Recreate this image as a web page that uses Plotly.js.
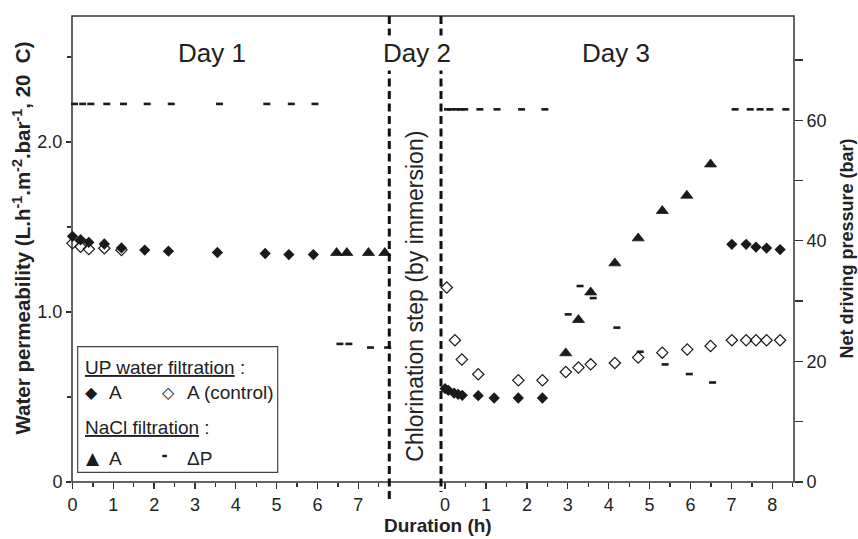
<!DOCTYPE html>
<html><head><meta charset="utf-8">
<script src="https://cdn.plot.ly/plotly-3.0.1.min.js"></script>
<style>html,body{margin:0;padding:0;background:#fff}#chart{width:858px;height:539px}</style>
</head><body><div id="chart"></div>
<script>
// ---------- Day 1 ----------
const day1UpTime   = [0, 0.2, 0.4, 0.78, 1.2, 1.77, 2.35, 3.55, 4.72, 5.3, 5.9];
const day1UpA      = [1.445, 1.425, 1.41, 1.40, 1.377, 1.364, 1.358, 1.35, 1.344, 1.338, 1.338];
const day1CtrlTime = [0, 0.2, 0.4, 0.78, 1.2];
const day1CtrlA    = [1.404, 1.384, 1.37, 1.375, 1.365];
const day1NaclTime = [6.47, 6.72, 7.25, 7.65];
const day1NaclA    = [1.348, 1.348, 1.348, 1.348];
const day1DpHighTime = [0.05, 0.25, 0.45, 0.84, 1.25, 1.83, 2.42, 3.6, 4.76, 5.36, 5.94];
const day1DpHigh     = [62.7, 62.7, 62.7, 62.7, 62.7, 62.7, 62.7, 62.7, 62.7, 62.7, 62.7];
const day1DpLowTime  = [6.55, 6.77, 7.3, 7.72];
const day1DpLow      = [22.9, 22.9, 22.3, 22.3];
// ---------- Day 3 ----------
const day3UpTime   = [0, 0.08, 0.22, 0.32, 0.42, 0.81, 1.2, 1.79, 2.38, 7.01, 7.36, 7.6, 7.86, 8.19];
const day3UpA      = [0.549, 0.539, 0.523, 0.516, 0.51, 0.508, 0.494, 0.494, 0.494, 1.398, 1.398, 1.382, 1.376, 1.367];
const day3CtrlTime = [0.04, 0.24, 0.41, 0.81, 1.79, 2.38, 2.95, 3.26, 3.56, 4.15, 4.72, 5.31, 5.92, 6.49, 7.01, 7.36, 7.6, 7.86, 8.19];
const day3CtrlA    = [1.144, 0.834, 0.72, 0.634, 0.598, 0.598, 0.647, 0.673, 0.692, 0.70, 0.732, 0.761, 0.78, 0.80, 0.834, 0.834, 0.834, 0.834, 0.834];
const day3NaclTime = [2.95, 3.26, 3.56, 4.15, 4.72, 5.31, 5.91, 6.49];
const day3NaclA    = [0.758, 0.954, 1.116, 1.287, 1.434, 1.595, 1.685, 1.869];
const day3DpHighTime = [0.06, 0.14, 0.28, 0.38, 0.48, 0.85, 1.27, 1.87, 2.44, 7.09, 7.46, 7.7, 7.94, 8.33];
const day3DpHigh     = [61.8, 61.8, 61.8, 61.8, 61.8, 61.8, 61.8, 61.8, 61.8, 61.8, 61.8, 61.8, 61.8, 61.8];
const day3DpLowTime  = [3.01, 3.3, 3.62, 4.2, 4.77, 5.38, 5.97, 6.54];
const day3DpLow      = [27.8, 32.5, 30.5, 25.6, 21.6, 19.5, 17.9, 16.5];
// ---------- ticks ----------
const day1Ticks = [0, 1, 2, 3, 4, 5, 6, 7];
const day3Ticks = [0, 1, 2, 3, 4, 5, 6, 7, 8];
const leftTickVals = [0, 1, 2];
const leftTickText = ['0', '1.0', '2.0'];
const rightTickVals = [0, 20, 40, 60];

const FONT = 'Liberation Sans, Arial, sans-serif';
const INK = '#1a1a1a';
const L = 72, R = 794, T = 16, B = 482;
const px = x => (x - L) / (R - L);
const py = y => (B - y) / (B - T);

const halves = (n) => { const a = []; for (let i = 0; i < n; i++) a.push(i + 0.5); return a; };

const filled = {symbol: 'diamond', size: 8.7, color: INK};
const open = {symbol: 'diamond-open', size: 8.7, color: INK, line: {width: 1.2, color: INK}};
const tri = {symbol: 'triangle-up', size: 10.5, color: INK, line: {width: 0.8, color: INK}};
const dash = {symbol: 'line-ew', size: 5, color: INK, line: {width: 2.6, color: INK}};

function tr(x, y, xa, ya, marker) {
  return {x: x, y: y, xaxis: xa, yaxis: ya, type: 'scatter', mode: 'markers', marker: marker, cliponaxis: false, showlegend: false, hoverinfo: 'skip'};
}

const data = [
  tr(day1DpHighTime, day1DpHigh, 'x', 'y2', dash),
  tr(day1DpLowTime, day1DpLow, 'x', 'y2', dash),
  tr(day3DpHighTime, day3DpHigh, 'x3', 'y2', dash),
  tr(day3DpLowTime, day3DpLow, 'x3', 'y2', dash),
  tr(day1CtrlTime, day1CtrlA, 'x', 'y', open),
  tr(day1UpTime, day1UpA, 'x', 'y', filled),
  tr(day1NaclTime, day1NaclA, 'x', 'y', tri),
  tr(day3CtrlTime, day3CtrlA, 'x3', 'y', open),
  tr(day3UpTime, day3UpA, 'x3', 'y', filled),
  tr(day3NaclTime, day3NaclA, 'x3', 'y', tri)
];

const tickBase = {ticks: 'outside', tickcolor: '#333', tickwidth: 1.3, showgrid: false, zeroline: false, showline: false, tickfont: {family: FONT, size: 18, color: '#222'}};

const x1a = px(389.3), x3a = px(441);

const layout = {
  width: 858, height: 539,
  margin: {l: L, r: 858 - R, t: T, b: 539 - B, pad: 0},
  paper_bgcolor: '#fff', plot_bgcolor: '#fff',
  font: {family: FONT, color: '#222'},
  showlegend: false,
  xaxis: Object.assign({}, tickBase, {domain: [0, x1a], range: [-0.0115, 7.76], anchor: 'y', tickmode: 'array', tickvals: day1Ticks, ticklen: 6,
    minor: {tickmode: 'array', tickvals: halves(8), ticks: 'outside', ticklen: 4, tickcolor: '#333', tickwidth: 1.3}}),
  xaxis3: Object.assign({}, tickBase, {domain: [x3a, 1], range: [-0.1, 8.53], anchor: 'y', tickmode: 'array', tickvals: day3Ticks, ticklen: 6,
    minor: {tickmode: 'array', tickvals: halves(9), ticks: 'outside', ticklen: 4, tickcolor: '#333', tickwidth: 1.3}}),
  yaxis: Object.assign({}, tickBase, {range: [0, 466 / 170], anchor: 'x', tickmode: 'array', tickvals: leftTickVals, ticktext: leftTickText, ticklen: 5,
    minor: {tickmode: 'array', tickvals: [0.5, 1.5, 2.5], ticks: 'outside', ticklen: 4, tickcolor: '#333', tickwidth: 1.3}}),
  yaxis2: Object.assign({}, tickBase, {range: [0, 466 / 6.03], overlaying: 'y', side: 'right', anchor: 'x3', tickmode: 'array', tickvals: rightTickVals, ticklen: 8,
    minor: {tickmode: 'array', tickvals: [10, 30, 50, 70], ticks: 'outside', ticklen: 8, tickcolor: '#333', tickwidth: 1.3}}),
  shapes: [
    {type: 'rect', xref: 'paper', yref: 'paper', x0: 0, x1: 1, y0: 0, y1: 1, line: {color: '#333', width: 1.5}, layer: 'below'},
    {type: 'line', xref: 'paper', yref: 'paper', x0: x1a, x1: x1a, y0: 1, y1: py(500), line: {color: '#111', width: 3, dash: '8px,4.5px'}},
    {type: 'line', xref: 'paper', yref: 'paper', x0: x3a, x1: x3a, y0: 1, y1: py(492), line: {color: '#111', width: 3, dash: '8px,4.5px'}},
    {type: 'rect', xref: 'paper', yref: 'paper', x0: px(77.7), x1: px(277.7), y0: py(472.3), y1: py(346.7), line: {color: '#444', width: 1.2}, fillcolor: '#fff'},
    {type: 'line', xref: 'paper', yref: 'paper', x0: px(162.3), x1: px(166.9), y0: py(456), y1: py(456), line: {color: INK, width: 2.5}}
  ],
  annotations: []
};

function ann(text, x, y, opts) {
  return Object.assign({text: text, xref: 'paper', yref: 'paper', x: px(x), y: py(y), showarrow: false, xanchor: 'center', yanchor: 'middle',
    font: {family: FONT, size: 19, color: '#222'}}, opts || {});
}

layout.annotations.push(
  ann('Day 1', 211.7, 53, {font: {family: FONT, size: 26, color: '#222'}}),
  ann('Day 2', 416.5, 53, {font: {family: FONT, size: 26, color: '#222'}, bgcolor: '#fff', borderpad: 2}),
  ann('Day 3', 616, 53, {font: {family: FONT, size: 26, color: '#222'}}),
  ann('Chlorination step (by immersion)', 415, 296.7, {textangle: -90, font: {family: FONT, size: 23, color: '#222'}}),
  ann('<b>Water permeability (L.h<sup>-1</sup>.m<sup>-2</sup>.bar<sup>-1</sup>, 20\u00a0\u00a0C)</b>', 21, 238.5, {textangle: -90, font: {family: FONT, size: 20.5, color: '#222'}}),
  ann('<b>Net driving pressure (bar)</b>', 846, 248.5, {textangle: -90, font: {family: FONT, size: 18, color: '#222'}}),
  ann('<b>Duration (h)</b>', 438, 525, {font: {family: FONT, size: 19, color: '#222'}}),
  ann('<u>UP water filtration</u> :', 83.3, 367.3, {xanchor: 'left'}),
  ann('\u25C6', 91.7, 392.3, {font: {family: 'DejaVu Sans', size: 16, color: INK}}),
  ann('A', 106.7, 392.3, {xanchor: 'left'}),
  ann('\u25C7', 168.3, 392.3, {font: {family: 'DejaVu Sans', size: 16, color: INK}}),
  ann('A (control)', 185, 392.3, {xanchor: 'left'}),
  ann('<u>NaCl filtration</u> :', 83.3, 427.3, {xanchor: 'left'}),
  ann('\u25B2', 92.5, 458.3, {font: {family: 'DejaVu Sans', size: 17, color: INK}}),
  ann('A', 106.7, 458.3, {xanchor: 'left'}),
  ann('\u0394P', 185, 458.3, {xanchor: 'left'})
);

Plotly.newPlot('chart', data, layout, {staticPlot: true, displayModeBar: false});
</script>
</body></html>
